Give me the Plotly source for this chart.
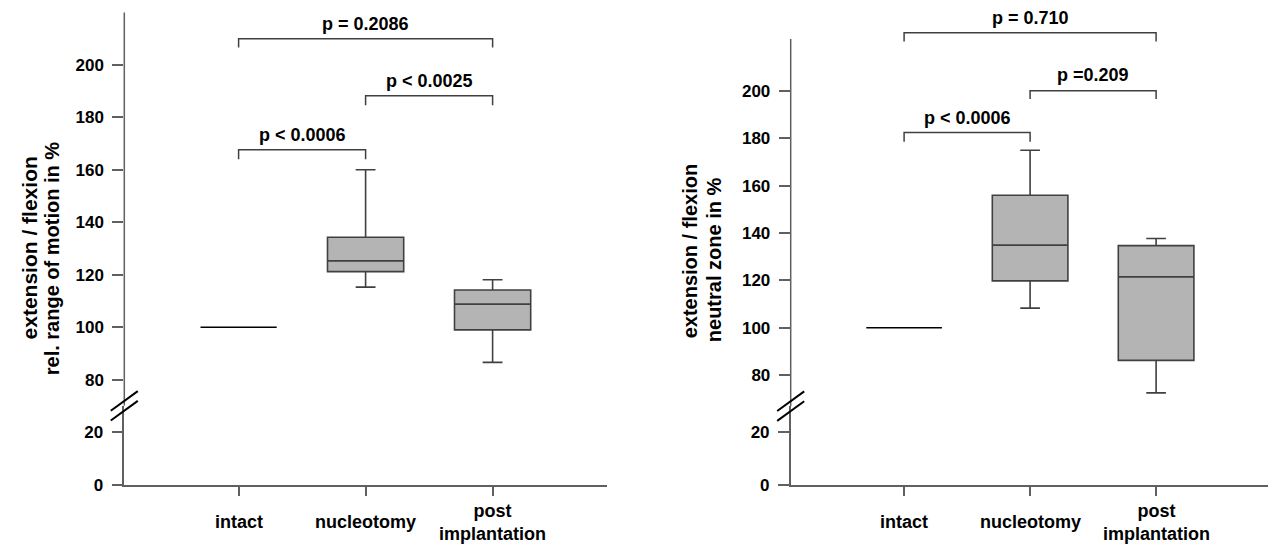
import plotly.graph_objects as go

# ---------------- data ----------------
categories = ["intact", "nucleotomy", "post<br>implantation"]

# left panel: extension / flexion, relative range of motion in %
rom_lower = [100, 115.3, 86.6]
rom_q1 = [100, 121.2, 99.0]
rom_median = [100, 125.3, 108.8]
rom_q3 = [100, 134.3, 114.2]
rom_upper = [100, 160.0, 118.1]

# right panel: extension / flexion, neutral zone in %
nz_lower = [100, 108.3, 72.5]
nz_q1 = [100, 119.8, 86.2]
nz_median = [100, 134.9, 121.5]
nz_q3 = [100, 156.0, 134.7]
nz_upper = [100, 175.0, 137.7]

# significance brackets: (from, to, bar level, tick end, label, label level)
rom_brackets = [
    (0, 2, 210.0, 206.6, "p = 0.2086", 215.6),
    (1, 2, 188.2, 184.6, "p < 0.0025", 193.9),
    (0, 1, 167.6, 164.0, "p < 0.0006", 173.2),
]
nz_brackets = [
    (0, 2, 224.7, 221.0, "p = 0.710", 231.0),
    (1, 2, 200.2, 196.7, "p =0.209", 206.8),
    (0, 1, 182.5, 178.6, "p < 0.0006", 188.6),
]

lower_ticks = [0, 20]
upper_ticks = [80, 100, 120, 140, 160, 180, 200]

# ---------------- geometry helpers (fractions of the 1268x552 picture) ----------------
W, H = 1268, 552
def px(p):
    return p / W
def py(p):
    return 1 - p / H

FONT = "Liberation Sans"
AXIS_COLOR = "#606060"
BOX_FILL = "#b4b4b4"
BOX_LINE = "#404040"

fig = go.Figure()

panels = [
    dict(x="x", ylo="y", yhi="y2", xa="xaxis", yla="yaxis", yha="yaxis2",
         lower=rom_lower, q1=rom_q1, med=rom_median, q3=rom_q3, upper=rom_upper,
         brackets=rom_brackets,
         ax_px=124.3, xend_px=607.0, cat_step=127.0,
         zero_px=493.7, lo_scale=2.68, brk_px=413.3, v80_px=386.7, hi_scale=2.672,
         top_val=220.0,
         titles=[("extension / flexion", 29, 253, 21), ("rel. range of motion in %", 52, 263, 20)]),
    dict(x="x2", ylo="y3", yhi="y4", xa="xaxis2", yla="yaxis3", yha="yaxis4",
         lower=nz_lower, q1=nz_q1, med=nz_median, q3=nz_q3, upper=nz_upper,
         brackets=nz_brackets,
         ax_px=790.7, xend_px=1268.0, cat_step=126.0,
         zero_px=493.7, lo_scale=2.67, brk_px=413.6, v80_px=382.0, hi_scale=2.41,
         top_val=222.0,
         titles=[("extension / flexion", 690, 256, 20), ("neutral zone in %", 714, 265, 20)]),
]

layout = dict(
    width=W, height=H, margin=dict(l=0, r=0, t=0, b=0),
    paper_bgcolor="white", plot_bgcolor="white", showlegend=False,
    font=dict(family=FONT, color="black"),
)
shapes = []
annotations = []

for P in panels:
    x_lo = -0.9
    x_hi = x_lo + (P["xend_px"] - P["ax_px"]) / P["cat_step"]
    lo_top = (P["zero_px"] - P["brk_px"]) / P["lo_scale"]
    hi_bot = 80 - (P["brk_px"] - P["v80_px"]) / P["hi_scale"]
    hi_top = 80 + P["v80_px"] / P["hi_scale"]

    layout[P["xa"]] = dict(
        domain=[px(P["ax_px"]), min(1.0, px(P["xend_px"]))], range=[x_lo, x_hi],
        anchor=P["ylo"], type="linear", showgrid=False, zeroline=False,
        showline=True, linecolor=AXIS_COLOR, linewidth=1.5,
        ticks="outside", ticklen=9, tickwidth=1.5, tickcolor=AXIS_COLOR,
        tickvals=[0, 1, 2], showticklabels=False,
    )
    layout[P["yla"]] = dict(
        domain=[py(P["zero_px"]), py(P["brk_px"])], range=[0, lo_top],
        anchor=P["x"], showgrid=False, zeroline=False,
        showline=True, linecolor=AXIS_COLOR, linewidth=1.5,
        ticks="outside", ticklen=11, tickwidth=1.5, tickcolor=AXIS_COLOR,
        tickvals=lower_ticks, ticklabelstandoff=5,
        tickfont=dict(family=FONT, size=17, color="black", weight="bold"),
    )
    layout[P["yha"]] = dict(
        domain=[py(P["brk_px"]), 1.0], range=[hi_bot, hi_top],
        anchor=P["x"], showgrid=False, zeroline=False, showline=False,
        ticks="outside", ticklen=11, tickwidth=1.5, tickcolor=AXIS_COLOR,
        tickvals=upper_ticks, ticklabelstandoff=5,
        tickfont=dict(family=FONT, size=17, color="black", weight="bold"),
    )
    # invisible helper trace so that the lower (0-20) axis part is drawn
    fig.add_trace(go.Scatter(x=[0], y=[0], mode="lines", xaxis=P["x"], yaxis=P["ylo"],
                             hoverinfo="skip", showlegend=False,
                             line=dict(color="rgba(0,0,0,0)")))
    # upper part of the y axis line (stops below the brackets)
    shapes.append(dict(type="line", xref=P["x"] + " domain", yref=P["yhi"],
                       x0=0, x1=0, y0=hi_bot, y1=P["top_val"],
                       line=dict(color=AXIS_COLOR, width=1.5)))
    # axis break marks
    for off in (-5, 5):
        c = P["brk_px"] + off
        shapes.append(dict(type="line", xref="paper", yref="paper",
                           x0=px(P["ax_px"] - 13.5), y0=py(c + 10),
                           x1=px(P["ax_px"] + 13.5), y1=py(c - 10),
                           line=dict(color="black", width=2)))

    # boxes
    for i, cat in enumerate(categories):
        fig.add_trace(go.Box(
            x=[i], q1=[P["q1"][i]], median=[P["med"][i]], q3=[P["q3"][i]],
            lowerfence=[P["lower"][i]], upperfence=[P["upper"][i]],
            xaxis=P["x"], yaxis=P["yhi"], width=0.6, whiskerwidth=0.26,
            fillcolor=BOX_FILL,
            line=dict(color="black" if i == 0 else BOX_LINE, width=1.6),
            boxpoints=False, hoverinfo="skip", name=cat.replace("<br>", " "),
        ))
        annotations.append(dict(
            x=i, y=py(532), xref=P["x"], yref="paper", text=cat,
            showarrow=False, xanchor="center", yanchor="middle",
            font=dict(family=FONT, size=18, color="black", weight="bold"),
        ))

    # significance brackets
    for a, b, lvl, tip, label, ly in P["brackets"]:
        shapes.append(dict(type="path", xref=P["x"], yref=P["yhi"],
                           path=f"M {a},{tip} L {a},{lvl} L {b},{lvl} L {b},{tip}",
                           line=dict(color="#404040", width=1.5)))
        annotations.append(dict(
            x=(a + b) / 2, y=ly, xref=P["x"], yref=P["yhi"], text=label,
            showarrow=False, xanchor="center", yanchor="middle",
            font=dict(family=FONT, size=18, color="black", weight="bold"),
        ))

    # y axis titles
    for text, tx, ty, fs in P["titles"]:
        annotations.append(dict(
            x=px(tx), y=py(ty), xref="paper", yref="paper", text=text,
            textangle=-90, showarrow=False, xanchor="center", yanchor="middle",
            font=dict(family=FONT, size=fs, color="black", weight="bold"),
        ))

layout["shapes"] = shapes
layout["annotations"] = annotations
fig.update_layout(**layout)

# the figure is placed at the window's top-left corner and sized to the
# visible area, so the whole window is covered by the chart
fig.write_html(
    "out.html",
    config={"displayModeBar": False},
    post_script=(
        "document.documentElement.style.overflow='hidden';"
        "document.body.style.margin='0';"
        "document.body.style.overflow='hidden';"
        "var gd=document.getElementById('{plot_id}');"
        "gd.style.position='fixed';gd.style.left='0px';gd.style.top='0px';"
        "var vw=document.documentElement.clientWidth||window.innerWidth;"
        "var vh=document.documentElement.clientHeight||window.innerHeight;"
        "if(vw>0&&vh>0&&(vw!==gd.layout.width||vh!==gd.layout.height)){"
        "gd.style.width=vw+'px';gd.style.height=vh+'px';"
        "Plotly.relayout(gd,{width:vw,height:vh});}"
    ),
)
